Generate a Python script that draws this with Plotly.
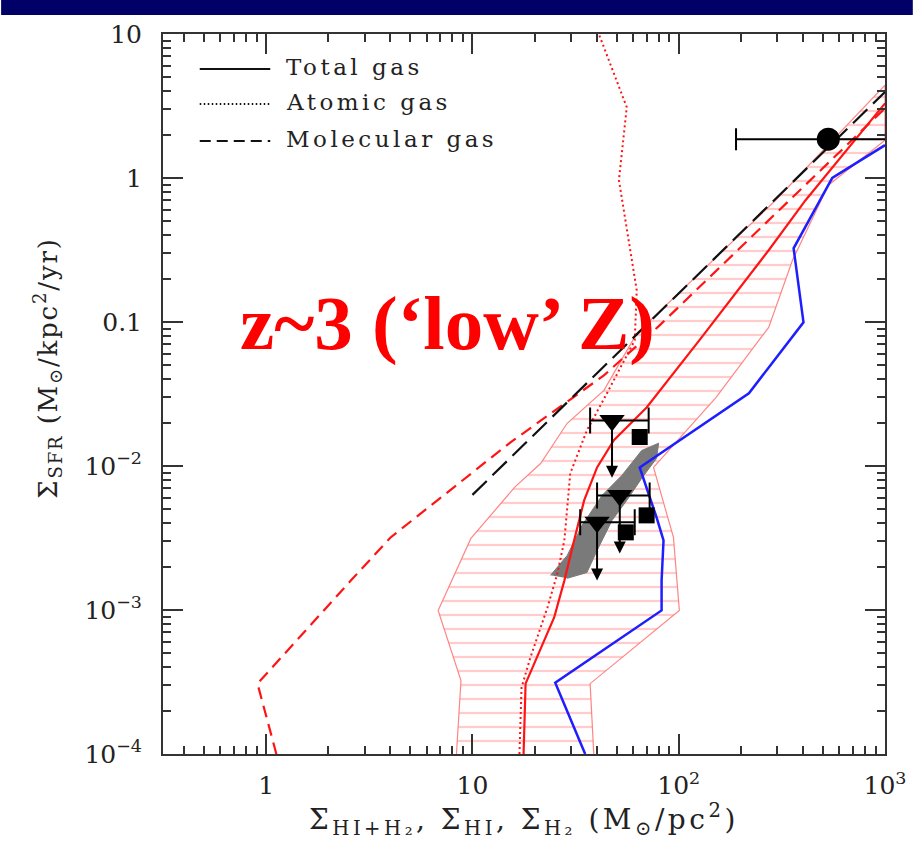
import numpy as np
import plotly.graph_objects as go

# ---------------- data (Σ_gas in M⊙/pc², Σ_SFR in M⊙/kpc²/yr) ----------------
# model: total gas (HI + H2)
total_gas_x = [17.7, 18.1, 24.9, 27.9, 31.1, 34.8, 40.2, 48.5, 69.9, 125.8, 273, 412, 1000]
total_gas_y = [1.0e-4, 3.08e-4, 8.87e-4, 1.60e-3, 3.04e-3, 5.77e-3, 9.78e-3, 0.0151, 0.0255,
               0.0746, 0.315, 0.701, 3.3]

# model: atomic gas
atomic_gas_x = [16.9, 17.3, 19.1, 23.1, 25.8, 27.9, 29.8, 35.9, 44.9, 61.2, 62.6, 54.2, 51.3, 56.0, 41.0]
atomic_gas_y = [1.0e-4, 2.89e-4, 4.68e-4, 1.04e-3, 1.79e-3, 3.04e-3, 8.88e-3, 0.0177, 0.0320,
                0.0746, 0.166, 0.569, 0.966, 3.10, 10.0]

# model: molecular gas
molecular_gas_x = [1.121, 0.908, 2.573, 4.01, 15.3, 43.4, 80.8, 204.8, 1000]
molecular_gas_y = [1.0e-4, 3.08e-4, 1.60e-3, 3.19e-3, 0.0146, 0.0426, 0.0948, 0.341, 3.05]

# model: local-metallicity comparison curve (blue)
blue_x = [35.2, 25.2, 82.6, 82.6, 84.4, 78.1, 64.7, 218.9, 402.6, 360.5, 555, 1000]
blue_y = [1.0e-4, 3.13e-4, 9.93e-4, 1.60e-3, 3.04e-3, 4.39e-3, 9.78e-3, 0.0320, 0.0995, 0.325, 1.0, 1.69]

# Kennicutt-Schmidt relation
ks_x = [10, 1000]
ks_y = [6.3e-3, 3.96]

# scatter envelope of the total-gas model (upper edge bottom->top, lower edge top->bottom)
env_upper_x = [8.33, 8.80, 6.82, 9.83, 16.0, 21.4, 28.8, 43.4, 62.6, 295, 1000]
env_upper_y = [0.9e-4, 3.24e-4, 9.93e-4, 3.14e-3, 7.10e-3, 0.0104, 0.0198, 0.0335, 0.0834, 0.701, 4.41]
env_lower_x = [1000, 531, 356, 273, 151.8, 75.5, 94.3, 100.7, 37.2, 38.9]
env_lower_y = [1.83, 0.891, 0.268, 0.0918, 0.030, 9.78e-3, 3.19e-3, 9.93e-4, 3.08e-4, 0.9e-4]

# observed LBG outskirts (grey band)
band_x = [23.9, 28.8, 34.0, 42.5, 53.0, 66.1, 79.9, 78.1, 66.1, 56.0, 47.5, 40.2, 35.9, 28.8]
band_y = [1.74e-3, 2.39e-3, 3.87e-3, 6.25e-3, 8.60e-3, 0.0128, 0.0144, 0.0113, 8.20e-3,
          5.77e-3, 4.19e-3, 2.59e-3, 1.82e-3, 1.66e-3]

# DLA upper limits (triangles) with x ranges and arrow ends
lim_x = [47.5, 51.8, 40.2]
lim_y = [0.0207, 6.25e-3, 4.06e-3]
lim_xlo = [37.2, 40.2, 33.3]
lim_xhi = [71.5, 72.3, 61.2]
lim_arrow_end = [8.3e-3, 2.47e-3, 1.6e-3]

# squares
sq_x = [64.7, 69.9, 55.4]
sq_y = [0.0159, 4.54e-3, 3.46e-3]

# LBG point
lbg_x = [531]
lbg_y = [1.86]
lbg_xlo = [189.6]
lbg_xhi = [1400]

x_ticks = [1, 10, 100, 1000]
x_ticktext = ["1", "10", "10<sup>2</sup>", "10<sup>3</sup>"]
y_ticks = [1e-4, 1e-3, 1e-2, 0.1, 1, 10]
y_ticktext = ["10<sup>−4</sup>", "10<sup>−3</sup>", "10<sup>−2</sup>", "0.1", "1", "10"]

# ---------------- layout geometry ----------------
W, H = 918, 863
ML, MR, MT, MB = 163, 28, 34, 109
PW, PH = W - ML - MR, H - MT - MB


def px(xp):
    return (xp - ML) / PW


def py(yp):
    return (H - MB - yp) / PH


RED = "rgb(255,20,20)"
PINK = "rgba(255,120,120,0.9)"
SERIF = "DejaVu Serif"

fig = go.Figure()

# hatched envelope
fig.add_trace(go.Scatter(
    x=env_upper_x + env_lower_x, y=env_upper_y + env_lower_y,
    mode="lines", fill="toself", fillcolor="rgba(0,0,0,0)",
    fillpattern=dict(shape="-", size=14, solidity=0.16, fgcolor="rgba(255,140,140,0.9)",
                     bgcolor="rgba(0,0,0,0)", fillmode="overlay"),
    line=dict(color=PINK, width=1.2), hoverinfo="skip", showlegend=False))

# grey observational band
fig.add_trace(go.Scatter(
    x=band_x, y=band_y, mode="lines", fill="toself", fillcolor="#7a7a7a",
    line=dict(color="#7a7a7a", width=1), hoverinfo="skip", showlegend=False))

# model curves
fig.add_trace(go.Scatter(x=atomic_gas_x, y=atomic_gas_y, mode="lines",
                         line=dict(color=RED, width=2, dash="2px,3px"), showlegend=False))
fig.add_trace(go.Scatter(x=molecular_gas_x, y=molecular_gas_y, mode="lines",
                         line=dict(color=RED, width=2.2, dash="12px,7px"), showlegend=False))
fig.add_trace(go.Scatter(x=total_gas_x, y=total_gas_y, mode="lines",
                         line=dict(color=RED, width=2.2), showlegend=False))
fig.add_trace(go.Scatter(x=blue_x, y=blue_y, mode="lines",
                         line=dict(color="rgb(30,30,255)", width=2.5), showlegend=False))
fig.add_trace(go.Scatter(x=ks_x, y=ks_y, mode="lines",
                         line=dict(color="#111", width=2.2, dash="20px,8px"), showlegend=False))

# upper limits: triangles with horizontal ranges
fig.add_trace(go.Scatter(
    x=lim_x, y=lim_y, mode="markers",
    marker=dict(symbol="triangle-down", size=22, color="black"),
    error_x=dict(type="data", symmetric=False,
                 array=[h - x for h, x in zip(lim_xhi, lim_x)],
                 arrayminus=[x - l for l, x in zip(lim_xlo, lim_x)],
                 color="black", thickness=2, width=13),
    showlegend=False))

fig.add_trace(go.Scatter(
    x=sq_x, y=sq_y, mode="markers",
    marker=dict(symbol="square", size=16, color="black"), showlegend=False))

fig.add_trace(go.Scatter(
    x=lbg_x, y=lbg_y, mode="markers",
    marker=dict(symbol="circle", size=23, color="black"),
    error_x=dict(type="data", symmetric=False,
                 array=[h - x for h, x in zip(lbg_xhi, lbg_x)],
                 arrayminus=[x - l for l, x in zip(lbg_xlo, lbg_x)],
                 color="black", thickness=2, width=11),
    showlegend=False))

annotations = []
# downward arrows on the upper limits
for xv, yv, ye in zip(lim_x, lim_y, lim_arrow_end):
    annotations.append(dict(
        x=np.log10(xv), y=np.log10(ye), ax=np.log10(xv), ay=np.log10(yv),
        xref="x", yref="y", axref="x", ayref="y", text="", showarrow=True,
        arrowhead=2, arrowsize=1.2, arrowwidth=2, arrowcolor="black"))

# legend
legend_items = [("Total gas", "solid", 69), ("Atomic gas", "1.5px,2.5px", 104),
                ("Molecular gas", "11px,6px", 141)]
shapes = []
for label, dash, yp in legend_items:
    shapes.append(dict(type="line", xref="paper", yref="paper",
                       x0=px(200), x1=px(271), y0=py(yp), y1=py(yp),
                       line=dict(color="#111", width=2, dash=dash)))
    annotations.append(dict(
        x=px(285), y=py(yp - 2), xref="paper", yref="paper", xanchor="left", yanchor="middle",
        text=f'<span style="letter-spacing:3.5px">{label}</span>', showarrow=False,
        font=dict(family=SERIF, size=23, color="#222")))

# heading bar across the top
shapes.append(dict(type="rect", xref="paper", yref="paper",
                   x0=px(0), x1=px(W), y0=py(15), y1=py(0),
                   fillcolor="#000066", line=dict(width=0), layer="above"))

# big red label
annotations.append(dict(
    x=px(449), y=py(323), xref="paper", yref="paper", xanchor="center", yanchor="middle",
    text="z~3 (‘low’ Z)", showarrow=False,
    font=dict(family="Liberation Serif", size=77, color="#ff0000", weight="bold")))

# axis titles
annotations.append(dict(
    x=px(46), y=py(368), xref="paper", yref="paper", xanchor="center", yanchor="middle",
    textangle=-90, showarrow=False,
    text='<span style="letter-spacing:1.8px">Σ<sub>SFR</sub> (M<sub>⊙</sub>/kpc<sup>2</sup>/yr)</span>',
    font=dict(family=SERIF, size=26, color="#222")))
annotations.append(dict(
    x=0.5, y=py(820), xref="paper", yref="paper", xanchor="center", yanchor="middle",
    showarrow=False,
    text='<span style="letter-spacing:3.5px">Σ<sub>HI+H₂</sub>, Σ<sub>HI</sub>, Σ<sub>H₂</sub> (M<sub>⊙</sub>/pc<sup>2</sup>)</span>',
    font=dict(family=SERIF, size=28, color="#222")))

axis_common = dict(
    type="log", showline=True, linecolor="#333", linewidth=2, mirror="ticks",
    ticks="inside", ticklen=20, tickwidth=1.5, tickcolor="#333",
    tickmode="array", showgrid=False, zeroline=False,
    tickfont=dict(family=SERIF, size=25, color="#222"),
    minor=dict(ticks="inside", ticklen=8, tickwidth=1.5, tickcolor="#333",
               dtick="D1", showgrid=False),
)

fig.update_layout(
    width=W, height=H, margin=dict(l=ML, r=MR, t=MT, b=MB, pad=0),
    paper_bgcolor="white", plot_bgcolor="white",
    xaxis=dict(range=[-0.5, 3], tickvals=x_ticks, ticktext=x_ticktext,
               ticklabelstandoff=8, **axis_common),
    yaxis=dict(range=[-4, 1], tickvals=y_ticks, ticktext=y_ticktext,
               ticklabelstandoff=14, **axis_common),
    shapes=shapes, annotations=annotations, showlegend=False,
)

fig.write_html("out.html", config={"displayModeBar": False})
